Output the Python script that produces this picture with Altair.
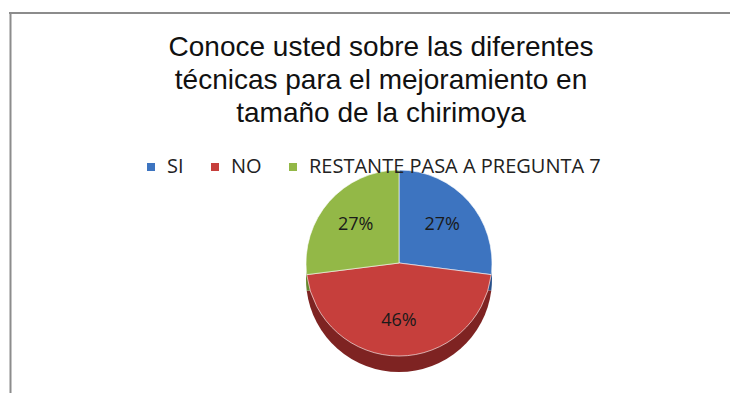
import altair as alt
import pandas as pd

# ---- data ----
categorias = ["SI", "NO", "RESTANTE PASA A PREGUNTA 7"]
porcentajes = [27, 46, 27]
colores = ["#3d74c0", "#c63f3c", "#93b847"]
colores_lado = ["#27508a", "#7e2322", "#64862c"]
titulo = ["Conoce usted sobre las diferentes",
          "técnicas para el mejoramiento en",
          "tamaño de la chirimoya"]

df = pd.DataFrame({
    "categoria": categorias,
    "valor": porcentajes,
    "orden": list(range(len(categorias))),
    "lado": colores_lado,
    "etiqueta": [f"{v}%" for v in porcentajes],
})

W, H = 722, 385
CX, CY_TOP, R, DEPTH = 390, 255, 93, 16
FONT = "Open Sans"
FONT_TITULO = "Liberation Sans"

base = alt.Chart(df)

lado = base.mark_arc(outerRadius=R).encode(
    theta=alt.Theta("valor:Q", stack=True),
    order=alt.Order("orden:Q"),
    color=alt.Color("lado:N", scale=None),
    x=alt.value(CX),
    y=alt.value(CY_TOP + DEPTH),
)

cara = base.mark_arc(outerRadius=R, stroke="#ffffff", strokeWidth=0.6).encode(
    theta=alt.Theta("valor:Q", stack=True),
    order=alt.Order("orden:Q"),
    color=alt.Color(
        "categoria:N",
        sort=categorias,
        scale=alt.Scale(domain=categorias, range=colores),
        legend=alt.Legend(
            orient="none", legendX=132, legendY=149, direction="horizontal",
            title=None, symbolType="square", symbolSize=64, symbolStrokeWidth=0,
            labelFont=FONT, labelFontSize=20, labelColor="#222222", labelLimit=0,
            labelOffset=6, columnPadding=21,
        ),
    ),
    x=alt.value(CX),
    y=alt.value(CY_TOP),
)

etiquetas = base.mark_text(radius=R * 0.62, font=FONT, fontSize=18, color="#1a1a1a").encode(
    theta=alt.Theta("valor:Q", stack=True),
    order=alt.Order("orden:Q"),
    text="etiqueta:N",
    x=alt.value(CX),
    y=alt.value(CY_TOP),
)

lineas_titulo = []
for i, linea in enumerate(titulo):
    lineas_titulo.append(
        alt.Chart(pd.DataFrame({"t": [linea]})).mark_text(
            font=FONT_TITULO, fontSize=28, color="#111111", align="center", baseline="alphabetic"
        ).encode(text="t:N", x=alt.value(372), y=alt.value(48 + 33 * i))
    )

marco_sup = alt.Chart(pd.DataFrame({"a": [0]})).mark_rule(color="#8c8c8c", strokeWidth=2).encode(
    x=alt.value(0), x2=alt.value(W), y=alt.value(5)
)
marco_izq = alt.Chart(pd.DataFrame({"a": [0]})).mark_rule(color="#8c8c8c", strokeWidth=2).encode(
    x=alt.value(1.5), y=alt.value(4), y2=alt.value(H)
)

chart = alt.layer(marco_sup, marco_izq, *lineas_titulo, lado, cara, etiquetas).properties(
    width=W, height=H, padding=0,
    autosize=alt.AutoSizeParams(type="fit", contains="padding"),
    background="#ffffff",
).configure_view(stroke=None)

chart.save("out.html", embed_options={"renderer": "svg", "actions": False})
